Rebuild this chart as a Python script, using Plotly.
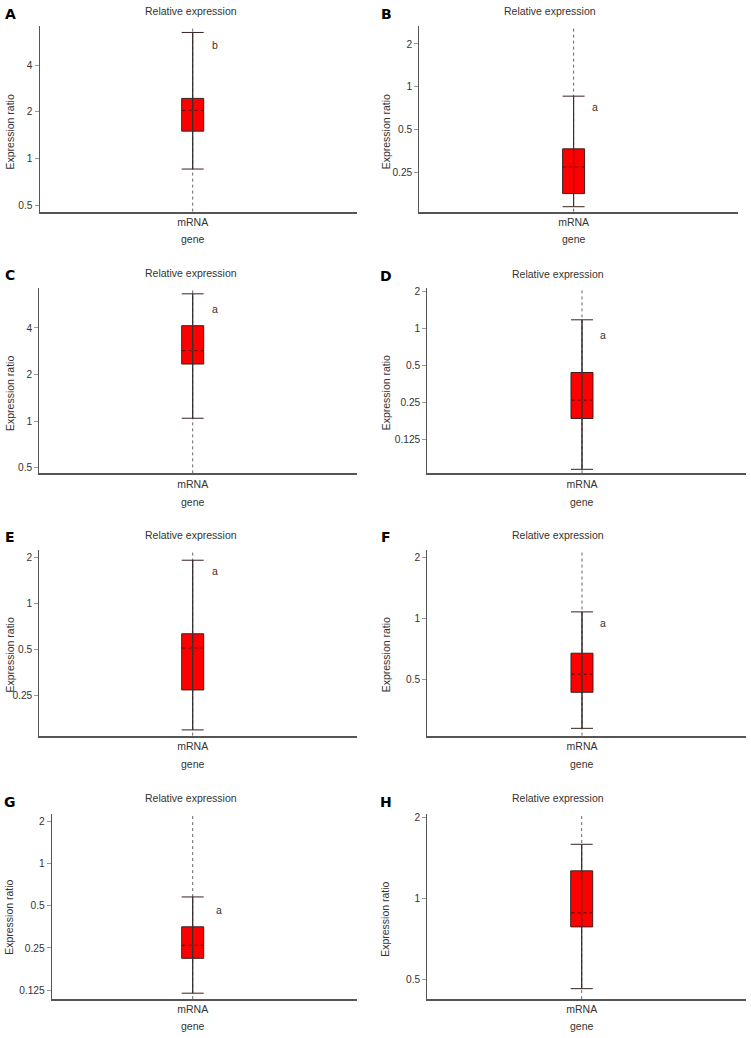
import plotly.graph_objects as go
import math

# ---------------- data ----------------
panels = ["A", "B", "C", "D", "E", "F", "G", "H"]
category = ["mRNA"]
x_title = "gene"
y_title = "Expression ratio"
chart_title = "Relative expression"

upper_whisker = [6.5, 0.86, 6.65, 1.18, 1.92, 1.075, 0.578, 1.59]
q3_values = [2.44, 0.367, 4.14, 0.44, 0.634, 0.671, 0.354, 1.266]
median_values = [2.04, 0.274, 2.86, 0.262, 0.512, 0.528, 0.261, 0.884]
q1_values = [1.50, 0.178, 2.34, 0.186, 0.272, 0.430, 0.211, 0.783]
lower_whisker = [0.854, 0.144, 1.045, 0.0718, 0.149, 0.285, 0.119, 0.461]
significance = ["b", "a", "a", "a", "a", "a", "a", ""]

tick_values = [
    [0.5, 1, 2, 4],
    [0.25, 0.5, 1, 2],
    [0.5, 1, 2, 4],
    [0.125, 0.25, 0.5, 1, 2],
    [0.25, 0.5, 1, 2],
    [0.5, 1, 2],
    [0.125, 0.25, 0.5, 1, 2],
    [0.5, 1, 2],
]
tick_labels = [[("%g" % v) for v in tv] for tv in tick_values]

# ---------------- layout geometry (pixels) ----------------
W, H = 751, 1038
# left, right, top, bottom of each plot area; box centre x
geom = [
    (39.5, 357.0, 24.0, 210.0, 192.7),
    (419.3, 737.7, 24.0, 210.0, 573.6),
    (39.3, 357.0, 286.7, 472.3, 192.7),
    (427.3, 745.7, 286.7, 472.3, 582.0),
    (39.3, 357.0, 549.3, 735.0, 192.7),
    (427.3, 745.7, 549.3, 735.0, 582.0),
    (51.7, 356.7, 813.3, 999.0, 192.7),
    (427.3, 745.7, 813.3, 999.0, 581.7),
]
# y-range in log2 units
yr_log2 = [
    (-1.14, 2.84), (-2.91, 1.42), (-1.12, 2.855), (-3.91, 1.094),
    (-2.87, 1.158), (-1.93, 1.118), (-3.21, 1.18), (-1.246, 1.047),
]
DY = -2.0  # annotation vertical correction
letter_pos = [(10, 14.5), (386, 14), (10, 275.5), (386, 277), (10, 538), (386, 538), (10, 803.5), (386, 804)]
title_pos = [(191, 11), (550, 11), (191, 274), (557.7, 274.3), (191, 536), (557.7, 536), (191, 800), (557.7, 800)]
ytitle_pos = [(9.8, 130), (385.6, 130), (9.8, 392), (385.6, 391.5), (9.8, 654), (385.6, 654), (9.6, 917), (385.6, 919)]
gene_y = [239.3, 239.3, 502.7, 502.7, 765, 765, 1028.3, 1028.3]
sig_pos = [(215, 45.5), (595, 107.5), (215, 310), (602.7, 336), (215, 572.5), (602.7, 624.5), (219.3, 912), (0, 0)]

BOX_W = 22.0
FONT = "Liberation Sans, Arial, sans-serif"
FS = 10.5
TICK_FS = 10.2
AX_COLOR = "#555555"
TXT = "#333333"

def px(x):
    return x / W

def py(y):
    return 1 - y / H

fig = go.Figure()
layout = dict(
    width=W, height=H, margin=dict(l=0, r=0, t=0, b=0),
    paper_bgcolor="white", plot_bgcolor="white", showlegend=False,
    font=dict(family=FONT, size=FS, color=TXT),
)
annotations = []
shapes = []

for i, p in enumerate(panels):
    n = "" if i == 0 else str(i + 1)
    xa, ya = "x" + n, "y" + n
    left, right, top, bottom, cx = geom[i]
    layout["xaxis" + n] = dict(
        domain=[px(left), px(right)], range=[left - cx, right - cx],
        anchor=ya, showgrid=False, zeroline=False, showline=True,
        linecolor=AX_COLOR, linewidth=1.5, ticks="",
        tickvals=[0], ticktext=category, tickfont=dict(size=FS, color=TXT),
        fixedrange=True,
    )
    lo, hi = yr_log2[i]
    layout["yaxis" + n] = dict(
        domain=[py(bottom), py(top)], type="log",
        range=[lo * math.log10(2), hi * math.log10(2)],
        anchor=xa, showgrid=False, zeroline=False, showline=True,
        linecolor=AX_COLOR, linewidth=1, ticks="outside", ticklen=4,
        tickcolor="#999999", tickvals=tick_values[i], ticktext=tick_labels[i],
        tickfont=dict(size=TICK_FS, color=TXT), fixedrange=True,
    )

    shapes.append(dict(type="line", xref=xa, yref=ya + " domain", x0=0, x1=0, y0=0, y1=1,
                       line=dict(color="#666666", width=1, dash="dot"), layer="below"))

    fig.add_trace(go.Box(
        x=[0], q1=[q1_values[i]], median=[median_values[i]], q3=[q3_values[i]],
        lowerfence=[lower_whisker[i]], upperfence=[upper_whisker[i]],
        width=BOX_W, whiskerwidth=1, fillcolor="#ff0000",
        line=dict(color="#3a2020", width=1), boxpoints=False,
        xaxis=xa, yaxis=ya, hoverinfo="skip",
    ))
    fig.add_trace(go.Scatter(
        x=[0, 0], y=[lower_whisker[i], upper_whisker[i]], mode="lines",
        line=dict(color="#333333", width=1), xaxis=xa, yaxis=ya, hoverinfo="skip",
    ))
    fig.add_trace(go.Scatter(
        x=[-BOX_W / 2 + 0.8, BOX_W / 2 - 0.8], y=[median_values[i]] * 2, mode="lines",
        line=dict(color="#ff0000", width=1.6), xaxis=xa, yaxis=ya, hoverinfo="skip",
    ))
    fig.add_trace(go.Scatter(
        x=[-BOX_W / 2 + 0.8, BOX_W / 2 - 0.8], y=[median_values[i]] * 2, mode="lines",
        line=dict(color="#6a0000", width=1, dash="dot"), xaxis=xa, yaxis=ya, hoverinfo="skip",
    ))
    fig.add_trace(go.Scatter(
        x=[0, 0], y=[q1_values[i], q3_values[i]], mode="lines",
        line=dict(color="#333333", width=1), xaxis=xa, yaxis=ya, hoverinfo="skip",
    ))

    lx, ly = letter_pos[i]
    annotations.append(dict(text="<b>%s</b>" % p, x=px(lx), y=py(ly + DY), xref="paper", yref="paper",
                            showarrow=False, font=dict(size=14, color="black", family="DejaVu Sans, sans-serif"),
                            xanchor="center", yanchor="middle"))
    tx, ty = title_pos[i]
    annotations.append(dict(text=chart_title, x=px(tx), y=py(ty + DY), xref="paper", yref="paper",
                            showarrow=False, font=dict(size=FS, color=TXT), xanchor="center", yanchor="middle"))
    yx, yy = ytitle_pos[i]
    annotations.append(dict(text=y_title, x=px(yx), y=py(yy), xref="paper", yref="paper",
                            showarrow=False, textangle=-90, font=dict(size=FS, color=TXT),
                            xanchor="center", yanchor="middle"))
    annotations.append(dict(text=x_title, x=0, y=py(gene_y[i] + DY), xref=xa, yref="paper",
                            showarrow=False, font=dict(size=FS, color=TXT), xanchor="center", yanchor="middle"))
    if significance[i]:
        sx, sy = sig_pos[i]
        annotations.append(dict(text=significance[i], x=sx - cx, y=py(sy + DY), xref=xa, yref="paper",
                                showarrow=False, font=dict(size=FS, color=TXT), xanchor="center", yanchor="middle"))

layout["annotations"] = annotations
layout["shapes"] = shapes
fig.update_layout(**layout)
fig.write_html(
    "out.html",
    config={"displayModeBar": False},
    post_script="document.body.style.margin='0';document.body.style.overflow='hidden';",
)
